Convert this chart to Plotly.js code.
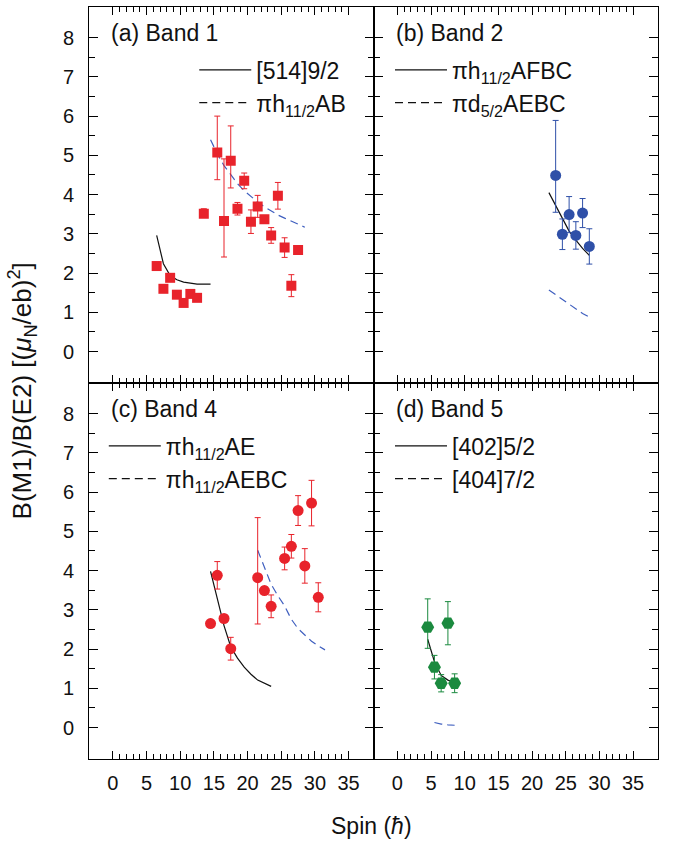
<!DOCTYPE html>
<html><head><meta charset="utf-8">
<script src="https://cdn.plot.ly/plotly-3.0.1.min.js"></script>
<style>html,body{margin:0;padding:0;background:#fff}</style>
</head><body><div id="chart" style="width:678px;height:842px"></div>
<script>
// ---------- Panel (a) Band 1 ----------
const aSpin = [6.5,7.5,8.5,9.5,10.5,11.5,12.5,13.5,15.5,16.5,17.5,18.5,19.5,20.5,21.5,22.5,23.5,24.5,25.5,26.5,27.5];
const aVal = [2.18,1.60,1.88,1.45,1.24,1.47,1.37,3.51,5.07,3.33,4.86,3.64,4.35,3.31,3.70,3.37,2.96,3.97,2.65,1.68,2.59];
const aErrPlus = [0.10,0.08,0.08,0.08,0.08,0.10,0.08,0.13,0.93,1.58,0.89,0.16,0.20,0.30,0.28,0.10,0.20,0.34,0.25,0.28,0.05];
const aErrMinus = [0.10,0.08,0.08,0.08,0.08,0.08,0.08,0.08,0.69,0.92,0.69,0.16,0.20,0.30,0.28,0.10,0.20,0.34,0.25,0.28,0.05];
const aSolidSpin = [6.5,7.5,8.5,9.5,10.5,11.5,12.5,13.5,14.5];
const aSolidVal = [2.96,2.24,1.94,1.83,1.77,1.74,1.72,1.72,1.72];
const aDashSpin = [14.5,15.5,16.5,17.5,18.5,19.5,20.5,21.5,22.5,23.5,24.5,25.5,26.5,27.5,28.5];
const aDashVal = [5.40,5.04,4.74,4.50,4.28,4.10,3.95,3.81,3.69,3.58,3.48,3.40,3.32,3.24,3.17];

// ---------- Panel (b) Band 2 ----------
const bSpin = [23.5,24.5,25.5,26.5,27.5,28.5];
const bVal = [4.49,2.99,3.49,2.96,3.53,2.68];
const bErrPlus = [1.40,0.39,0.46,0.35,0.37,0.45];
const bErrMinus = [0.94,0.39,0.46,0.35,0.37,0.45];
const bSolidSpin = [22.5,23.5,24.5,25.5,26.5,27.5,28.5];
const bSolidVal = [4.05,3.72,3.40,3.07,2.84,2.63,2.45];
const bDashSpin = [22.5,23.5,24.5,25.5,26.5,27.5,28.5];
const bDashVal = [1.57,1.45,1.34,1.22,1.08,0.97,0.88];

// ---------- Panel (c) Band 4 ----------
const cSpin = [14.5,15.5,16.5,17.5,21.5,22.5,23.5,25.5,26.5,27.5,28.5,29.5,30.5];
const cVal = [2.65,3.88,2.78,2.01,3.82,3.49,3.09,4.31,4.62,5.53,4.12,5.72,3.32];
const cErrPlus = [0.05,0.35,0.10,0.29,1.53,0.10,0.29,0.29,0.30,0.38,0.44,0.58,0.37];
const cErrMinus = [0.05,0.35,0.10,0.29,1.18,0.10,0.29,0.29,0.30,0.38,0.44,0.58,0.37];
const cSolidSpin = [14.5,15.5,16.5,17.5,18.5,19.5,20.5,21.5,22.5,23.5];
const cSolidVal = [3.98,3.30,2.60,2.06,1.77,1.54,1.36,1.21,1.12,1.05];
const cDashSpin = [21.5,22.5,23.5,24.5,25.5,26.5,27.5,28.5,29.5,30.5,31.5];
const cDashVal = [4.52,4.08,3.65,3.36,3.10,2.76,2.52,2.36,2.20,2.08,1.98];

// ---------- Panel (d) Band 5 ----------
const dSpin = [4.5,5.5,6.5,7.5,8.5];
const dVal = [2.56,1.54,1.13,2.66,1.13];
const dErrPlus = [0.72,0.30,0.22,0.55,0.24];
const dErrMinus = [0.54,0.30,0.22,0.55,0.24];
const dSolidSpin = [4.5,5.5,6.5,7.5,8.5];
const dSolidVal = [2.25,1.68,1.33,1.21,1.15];
const dDashSpin = [5.5,6.5,7.5,8.5];
const dDashVal = [0.13,0.09,0.07,0.06];

// ---------- labels ----------
const panelTitles = ['(a) Band 1','(b) Band 2','(c) Band 4','(d) Band 5'];
const solidNames = ['[514]9/2','πh<sub>11/2</sub>AFBC','πh<sub>11/2</sub>AE','[402]5/2'];
const dashNames = ['πh<sub>11/2</sub>AB','πd<sub>5/2</sub>AEBC','πh<sub>11/2</sub>AEBC','[404]7/2'];
const xTickVals = [0,5,10,15,20,25,30,35];
const yTickVals = [0,1,2,3,4,5,6,7,8];

const RED = '#e8232b', BLUE = '#2f50a8', DBLUE = '#3f5fbf', GREEN = '#1b8a3f';
const FONT = '"Liberation Sans", Arial, Helvetica, sans-serif';

const panels = [
  {xa:'x', ya:'y', lg:'legend', spin:aSpin, val:aVal, ep:aErrPlus, em:aErrMinus, col:RED, sym:'square', size:10,
   ss:aSolidSpin, sv:aSolidVal, ds:aDashSpin, dv:aDashVal},
  {xa:'x2', ya:'y2', lg:'legend2', spin:bSpin, val:bVal, ep:bErrPlus, em:bErrMinus, col:BLUE, sym:'circle', size:11,
   ss:bSolidSpin, sv:bSolidVal, ds:bDashSpin, dv:bDashVal},
  {xa:'x3', ya:'y3', lg:'legend3', spin:cSpin, val:cVal, ep:cErrPlus, em:cErrMinus, col:RED, sym:'circle', size:11,
   ss:cSolidSpin, sv:cSolidVal, ds:cDashSpin, dv:cDashVal},
  {xa:'x4', ya:'y4', lg:'legend4', spin:dSpin, val:dVal, ep:dErrPlus, em:dErrMinus, col:GREEN, sym:'hexagon2', size:13,
   ss:dSolidSpin, sv:dSolidVal, ds:dDashSpin, dv:dDashVal}
];

const traces = [];
panels.forEach((p,i) => {
  traces.push({x:p.ss, y:p.sv, xaxis:p.xa, yaxis:p.ya, mode:'lines', name:solidNames[i], legend:p.lg,
    line:{color:'#111', width:1.2}, showlegend:true});
  traces.push({x:[null], y:[null], xaxis:p.xa, yaxis:p.ya, mode:'lines', name:dashNames[i], legend:p.lg,
    line:{color:'#111', width:1.2, dash:'8px,5px'}, showlegend:true, hoverinfo:'skip'});
  traces.push({x:p.ds, y:p.dv, xaxis:p.xa, yaxis:p.ya, mode:'lines', showlegend:false,
    line:{color:DBLUE, width:1.2, dash:'8px,5px'}});
  traces.push({x:p.spin, y:p.val, xaxis:p.xa, yaxis:p.ya, mode:'markers', showlegend:false,
    marker:{symbol:p.sym, size:p.size, color:p.col, line:{width:0}},
    error_y:{type:'data', symmetric:false, array:p.ep, arrayminus:p.em, color:p.col, thickness:1, width:3}});
});

const minorX = []; for (let v = 1; v < 35; v++) if (v % 5) minorX.push(v);
const minorY = yTickVals.slice(0,-1).map(v => v + 0.5);

function xax(domain, anchor, labels) {
  return {domain:domain, anchor:anchor, range:[-3.55,38.7], showgrid:false, zeroline:false,
    showline:true, linecolor:'#000', linewidth:1, mirror:'ticks',
    tickmode:'array', tickvals:xTickVals, ticks:'inside', ticklen:8, tickwidth:1, tickcolor:'#000',
    minor:{tickmode:'array', tickvals:minorX, ticks:'inside', ticklen:5, tickwidth:1, tickcolor:'#000', showgrid:false},
    showticklabels:labels, ticklabelstandoff:6, tickfont:{family:FONT, size:20, color:'#111'}};
}
function yax(domain, anchor, labels) {
  return {domain:domain, anchor:anchor, range:[-0.8,8.78], showgrid:false, zeroline:false,
    showline:true, linecolor:'#000', linewidth:1, mirror:'ticks',
    tickmode:'array', tickvals:yTickVals, ticks:'inside', ticklen:9, tickwidth:1, tickcolor:'#000',
    minor:{tickmode:'array', tickvals:minorY, ticks:'inside', ticklen:6, tickwidth:1, tickcolor:'#000', showgrid:false},
    showticklabels:labels, ticklabelstandoff:10, tickfont:{family:FONT, size:20, color:'#111'}};
}

function legendAt(x, y) {
  return {x:x, y:y, xanchor:'left', yanchor:'top', bgcolor:'rgba(0,0,0,0)', borderwidth:0,
    font:{family:FONT, size:23, color:'#111'}, itemwidth:52, tracegroupgap:0, traceorder:'normal'};
}

const annotations = [
  {text:panelTitles[0], xref:'x domain', yref:'y domain', x:0.072, y:0.93, xanchor:'left', yanchor:'middle'},
  {text:panelTitles[1], xref:'x2 domain', yref:'y2 domain', x:0.072, y:0.93, xanchor:'left', yanchor:'middle'},
  {text:panelTitles[2], xref:'x3 domain', yref:'y3 domain', x:0.072, y:0.93, xanchor:'left', yanchor:'middle'},
  {text:panelTitles[3], xref:'x4 domain', yref:'y4 domain', x:0.072, y:0.93, xanchor:'left', yanchor:'middle'},
].map(a => Object.assign(a, {showarrow:false, font:{family:FONT, size:23, color:'#111'}}));

annotations.push({text:'Spin (<i>ħ</i>)', xref:'paper', yref:'paper', x:0.497, y:-0.089, xanchor:'center', yanchor:'middle',
  showarrow:false, font:{family:FONT, size:23, color:'#111'}});
annotations.push({text:'B(M1)/B(E2) [(<i>μ</i><sub>N</sub>/eb)<sup>2</sup>]', xref:'paper', yref:'paper', x:-0.118, y:0.49,
  xanchor:'center', yanchor:'middle', textangle:-90, showarrow:false, font:{family:FONT, size:26, color:'#111'}});

const layout = {
  width:678, height:842, margin:{l:89, r:20, t:7, b:83}, paper_bgcolor:'#fff', plot_bgcolor:'#fff',
  font:{family:FONT, color:'#111'},
  xaxis:xax([0,0.5],'y',false), yaxis:yax([0.5,1],'x',true),
  xaxis2:xax([0.5,1],'y2',false), yaxis2:yax([0.5,1],'x2',false),
  xaxis3:xax([0,0.5],'y3',true), yaxis3:yax([0,0.5],'x3',true),
  xaxis4:xax([0.5,1],'y4',true), yaxis4:yax([0,0.5],'x4',false),
  legend:legendAt(0.185,0.945), legend2:legendAt(0.529,0.945),
  legend3:legendAt(0.026,0.445), legend4:legendAt(0.529,0.445),
  annotations:annotations, showlegend:true
};

Plotly.newPlot('chart', traces, layout, {displayModeBar:false, staticPlot:true});
</script></body></html>
